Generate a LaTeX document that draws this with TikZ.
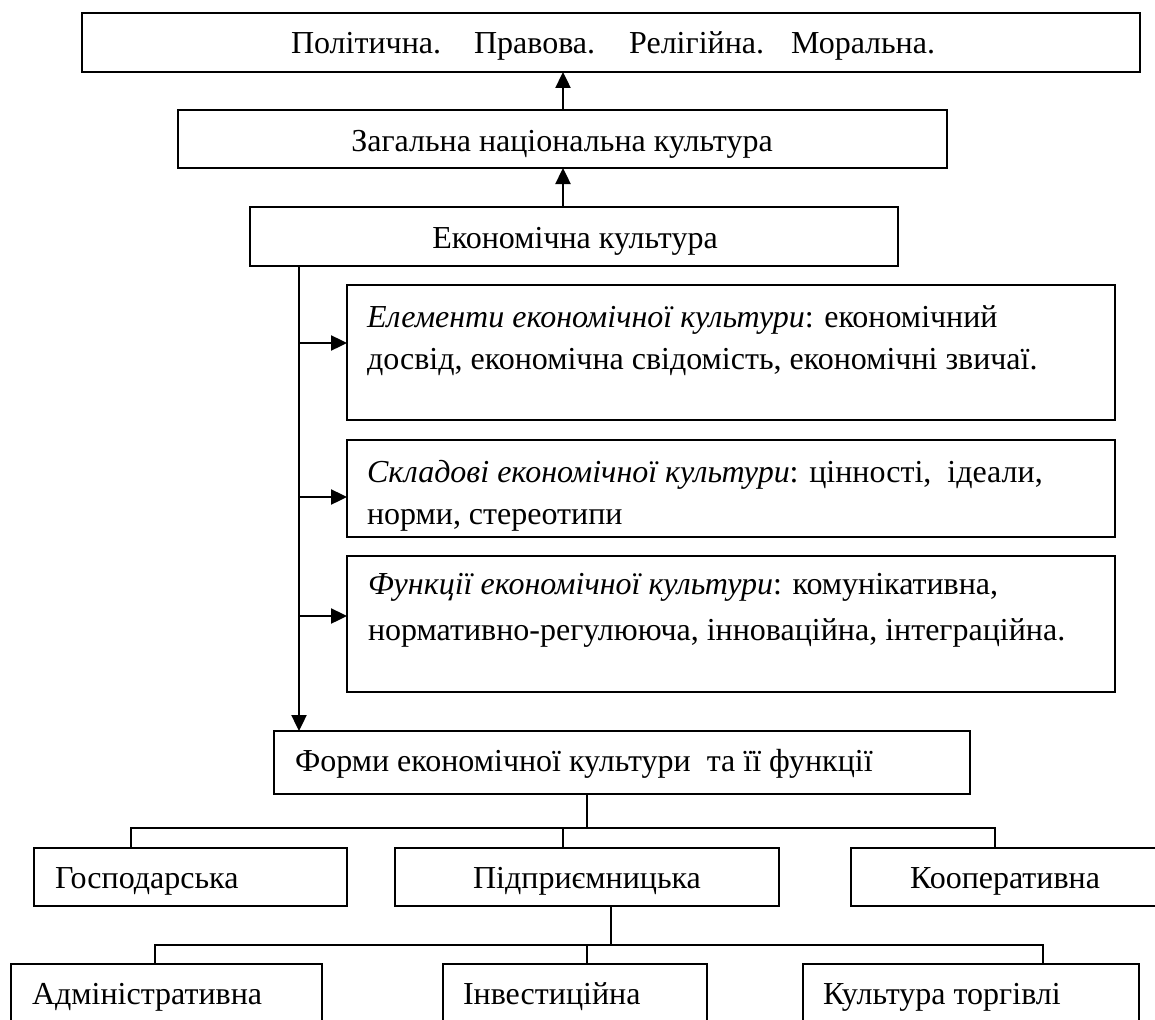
\documentclass[tikz,border=0pt]{standalone}
\usepackage{fontspec}
\setmainfont{Liberation Serif}
\usetikzlibrary{arrows.meta}
\begin{document}
\begin{tikzpicture}[x=1pt,y=-1pt,
  bx/.style={draw, line width=1.8pt, inner sep=0pt, outer sep=0pt, anchor=north west},
  tx/.style={inner sep=0pt, outer sep=0pt, font=\fontsize{32}{38}\selectfont},
  ln/.style={line width=1.8pt},
  ar/.style={line width=2.4pt, -{Triangle[length=16pt,width=15pt]}}]
\useasboundingbox (0,0) rectangle (1155,1019);
\clip (0,0) rectangle (1155,1019);
% boxes
\node[bx, minimum width=1058pt, minimum height=59pt] (top) at (82,13) {};
\node[bx, minimum width=769pt, minimum height=58pt] (gen) at (178,110) {};
\node[bx, minimum width=648pt, minimum height=59pt] (eco) at (250,207) {};
\node[bx, minimum width=768pt, minimum height=135pt] (el) at (347,285) {};
\node[bx, minimum width=768pt, minimum height=97pt] (sk) at (347,440) {};
\node[bx, minimum width=768pt, minimum height=136pt] (fu) at (347,556) {};
\node[bx, minimum width=696pt, minimum height=63pt] (fo) at (274,731) {};
\node[bx, minimum width=313pt, minimum height=58pt] (gos) at (34,848) {};
\node[bx, minimum width=384pt, minimum height=58pt] (pid) at (395,848) {};
\node[bx, minimum width=310pt, minimum height=58pt] (koo) at (851,848) {};
\node[bx, minimum width=311pt, minimum height=90pt] (adm) at (11,964) {};
\node[bx, minimum width=264pt, minimum height=90pt] (inv) at (443,964) {};
\node[bx, minimum width=336pt, minimum height=90pt] (kt) at (803,964) {};
% texts
\node[tx, anchor=base west] (topT) at (291,54) {Політична.\hspace*{33pt}Правова.\hspace*{34pt}Релігійна.\hspace*{27pt}Моральна.};
\node[tx, anchor=base] (genT) at (562,152) {Загальна національна культура};
\node[tx, anchor=base] (ecoT) at (575,248) {Економічна культура};
\node[tx, anchor=base west] (el1) at (367,327) {\textit{Елементи економічної культури}: економічний};
\node[tx, anchor=base west] (el2) at (367,369) {досвід, економічна свідомість, економічні звичаї.};
\node[tx, anchor=base west] (sk1) at (367,482) {\textit{Складові економічної культури}: цінності,\hspace*{8pt} ідеали,};
\node[tx, anchor=base west] (sk2) at (367,524) {норми, стереотипи};
\node[tx, anchor=base west] (fu1) at (368,594) {\textit{Функції економічної культури}: комунікативна,};
\node[tx, anchor=base west] (fu2) at (368,640) {нормативно-регулююча, інноваційна, інтеграційна.};
\node[tx, anchor=base west] (foT) at (295,771) {Форми економічної культури\hspace*{8pt} та її функції};
\node[tx, anchor=base west] (gosT) at (55,888) {Господарська};
\node[tx, anchor=base] (pidT) at (587,888) {Підприємницька};
\node[tx, anchor=base west] (kooT) at (910,888) {Кооперативна};
\node[tx, anchor=base west] (admT) at (32,1004) {Адміністративна};
\node[tx, anchor=base west] (invT) at (463,1004) {Інвестиційна};
\node[tx, anchor=base west] (ktT) at (823,1004) {Культура торгівлі};
% arrows upward
\coordinate (ax) at (563,0);
\draw[ar] (gen.north -| ax) -- (top.south -| ax);
\draw[ar] (eco.north -| ax) -- (gen.south -| ax);
% left spine
\coordinate (v) at (299,0);
\draw[ar] (eco.south -| v) -- (fo.north -| v);
\coordinate (b1) at (299,343);
\coordinate (b2) at (299,497);
\coordinate (b3) at (299,616);
\draw[ar] (b1) -- (el.west |- b1);
\draw[ar] (b2) -- (sk.west |- b2);
\draw[ar] (b3) -- (fu.west |- b3);
% first tree
\coordinate (t0) at (587,828);
\coordinate (h1) at (131,828);
\coordinate (h2) at (563,828);
\coordinate (h3) at (995,828);
\draw[ln] (fo.south -| t0) -- (t0);
\draw[ln] (gos.north -| h1) -- (h1) -- (h3) -- (koo.north -| h3);
\draw[ln] (pid.north -| h2) -- (h2);
% second tree
\coordinate (s0) at (611,945);
\coordinate (g1) at (155,945);
\coordinate (g2) at (587,945);
\coordinate (g3) at (1043,945);
\draw[ln] (pid.south -| s0) -- (s0);
\draw[ln] (adm.north -| g1) -- (g1) -- (g3) -- (kt.north -| g3);
\draw[ln] (inv.north -| g2) -- (g2);
\end{tikzpicture}
\end{document}
